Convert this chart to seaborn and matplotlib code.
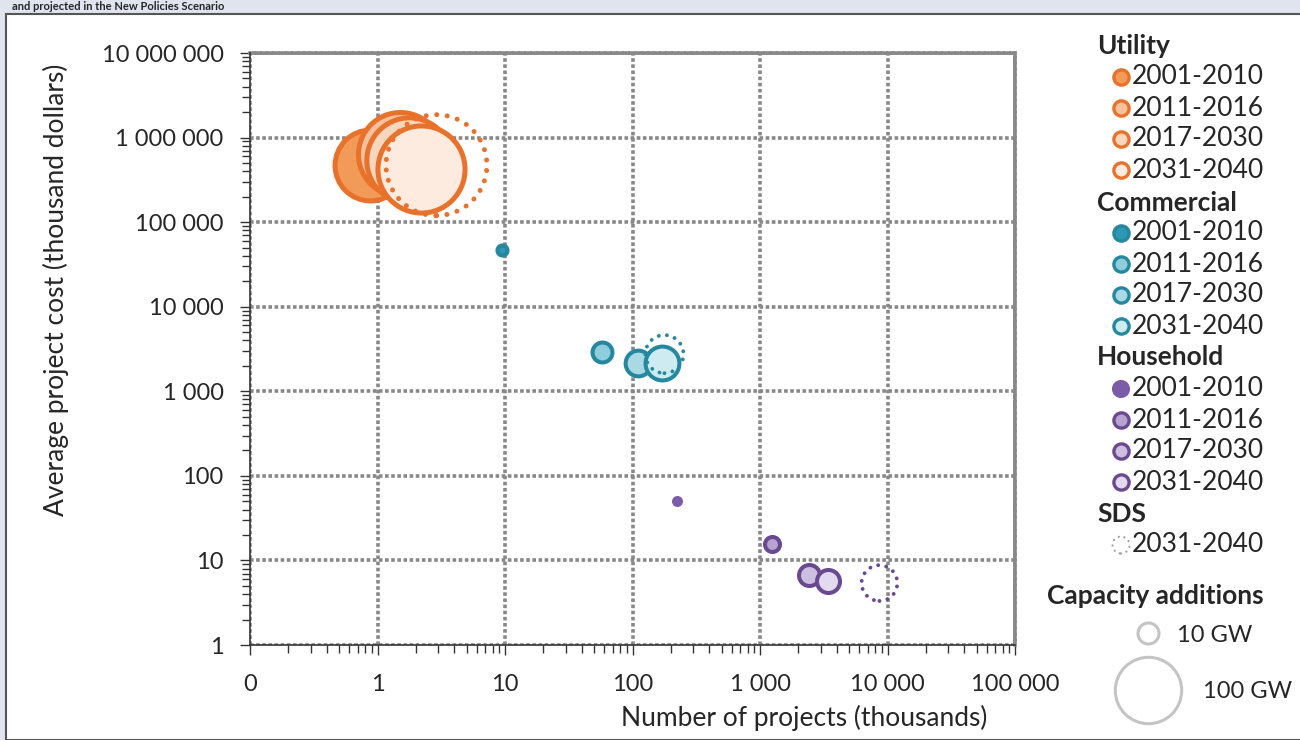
import numpy as np
import pandas as pd
import seaborn as sns
import matplotlib.pyplot as plt
import matplotlib.ticker as mticker
from matplotlib.patches import Rectangle

# data
periods = ['2001-2010', '2011-2016', '2017-2030', '2031-2040']

utility_projects = [0.88, 1.49, 1.78, 2.21]          # thousands
utility_cost = [470000, 637000, 540000, 423000]      # thousand dollars
utility_gw = [114, 160, 165, 172]

commercial_projects = [9.5, 58, 110, 169]
commercial_cost = [47300, 2900, 2150, 2150]
commercial_gw = [2.3, 9, 15, 26]

household_projects = [223, 1250, 2440, 3440]
household_cost = [50, 15.6, 6.7, 5.7]
household_gw = [1.1, 5.1, 10, 12]

sds_sectors = ['Utility', 'Commercial', 'Household']
sds_projects = [2.9, 178, 8650]
sds_cost = [472000, 2750, 5.4]
sds_gw = [231, 33, 29]

x_ticks = [0.1, 1, 10, 100, 1000, 10000, 100000]
x_labels = ['0', '1', '10', '100', '1 000', '10 000', '100 000']
y_ticks = [1, 10, 100, 1000, 10000, 100000, 1000000, 10000000]
y_labels = ['1', '10', '100', '1 000', '10 000', '100 000', '1 000 000', '10 000 000']

legend_gw = [10, 100]

# colours
edge = {'Utility': '#E8722B', 'Commercial': '#25889F', 'Household': '#69498F'}
fills = {
    'Utility': ['#F29B58', '#F6C19C', '#F9D6BE', '#FCEBDE'],
    'Commercial': ['#2C98B3', '#8FCDDD', '#A9D9E5', '#CFEBF2'],
    'Household': ['#7B5CA8', '#B6A3D0', '#CBBEDF', '#E2DAEE'],
}
edge_w = {'Utility': 3.6, 'Commercial': 2.9, 'Household': 2.9}

rows = []
for sector, xs, ys, gw in [('Utility', utility_projects, utility_cost, utility_gw),
                           ('Commercial', commercial_projects, commercial_cost, commercial_gw),
                           ('Household', household_projects, household_cost, household_gw)]:
    for i, p in enumerate(periods):
        rows.append(dict(sector=sector, period=p, projects=xs[i], cost=ys[i], gw=gw[i],
                         fill=fills[sector][i], scen='NPS'))
    j = sds_sectors.index(sector)
    rows.append(dict(sector=sector, period='2031-2040', projects=sds_projects[j], cost=sds_cost[j],
                     gw=sds_gw[j], fill='none', scen='SDS'))
df = pd.DataFrame(rows)

K = 22.86  # marker area (pt^2) per GW

sns.set_style('white')
plt.rcParams['font.family'] = ['Lato', 'DejaVu Sans']
txt = '#262626'

fig = plt.figure(figsize=(13, 7.4), dpi=100)
fig.patch.set_facecolor('#dfe4ee')
fig.add_artist(Rectangle((6 / 1300, 0), 1, 1 - 14 / 740, transform=fig.transFigure,
                         facecolor='white', edgecolor='#555555', linewidth=1.5, zorder=-5))
fig.text(12 / 1300, 1 - 7 / 740, 'and projected in the New Policies Scenario', fontsize=8,
         weight='bold', color=txt, va='center')

ax = fig.add_axes([250 / 1300, 1 - 645 / 740, 765 / 1300, 592 / 740])
ax.set_facecolor('white')
ax.set_xscale('log')
ax.set_yscale('log')
ax.set_xlim(0.1, 100000)
ax.set_ylim(1, 10000000)

for _, r in df.iterrows():
    sec = r['sector']
    if r['scen'] == 'SDS':
        lw = 3.6 if sec == 'Utility' else 2.8
        sns.scatterplot(x=[r['projects']], y=[r['cost']], s=r['gw'] * K, ax=ax,
                        facecolor='none', edgecolor=edge[sec], linewidth=lw,
                        linestyle=(0, (0.01, 2.1)), zorder=5, legend=False)
        ax.collections[-1].set_capstyle('round')
    else:
        ec = fills[sec][0] if (sec == 'Household' and r['period'] == '2001-2010') else edge[sec]
        sns.scatterplot(x=[r['projects']], y=[r['cost']], s=r['gw'] * K, ax=ax,
                        color=r['fill'], edgecolor=ec, linewidth=edge_w[sec], zorder=4,
                        legend=False)

ax.xaxis.set_major_locator(mticker.FixedLocator(x_ticks))
ax.xaxis.set_major_formatter(mticker.FixedFormatter(x_labels))
ax.yaxis.set_major_locator(mticker.FixedLocator(y_ticks))
ax.yaxis.set_major_formatter(mticker.FixedFormatter(y_labels))
ax.xaxis.set_minor_locator(mticker.LogLocator(base=10, subs=np.arange(2, 10), numticks=20))
ax.yaxis.set_minor_locator(mticker.LogLocator(base=10, subs=np.arange(2, 10), numticks=20))
ax.xaxis.set_minor_formatter(mticker.NullFormatter())
ax.yaxis.set_minor_formatter(mticker.NullFormatter())
ax.tick_params(axis='both', which='both', direction='out', length=6, width=1, color='#333333',
               labelsize=17, labelcolor=txt)
ax.tick_params(axis='both', which='major', length=7)
ax.tick_params(axis='x', which='major', pad=14)
ax.tick_params(axis='y', which='major', pad=12)
ax.tick_params(bottom=True, left=True, which='both')

ax.grid(which='major', linestyle=(0, (1, 0.7)), color='#888888', linewidth=2.6)
ax.set_axisbelow(True)
for s in ['top', 'right']:
    ax.spines[s].set_linestyle((0, (1, 0.7)))
    ax.spines[s].set_color('#888888')
    ax.spines[s].set_linewidth(2.6)
for s in ['left', 'bottom']:
    ax.spines[s].set_color('#333333')
    ax.spines[s].set_linewidth(1.2)
    ax.spines[s].set_zorder(3)

ax.set_xlabel('Number of projects (thousands)', fontsize=19, color=txt)
ax.set_ylabel('Average project cost (thousand dollars)', fontsize=19, color=txt)
ax.xaxis.set_label_coords(0.725, -0.101)
ax.yaxis.set_label_coords(-0.236, 0.60)

# legend drawn in pixel coordinates
lg = fig.add_axes([0, 0, 1, 1], zorder=10)
lg.set_xlim(0, 1300)
lg.set_ylim(740, 0)
lg.axis('off')

groups = [('Utility', 46, [77, 108, 139, 170]),
          ('Commercial', 203, [233, 264, 295, 326]),
          ('Household', 357, [389, 420, 451, 482])]
for sec, ty, ys in groups:
    lg.text(1097, ty, sec, fontsize=19, weight='bold', color=txt, va='center')
    for i, yy in enumerate(ys):
        if sec == 'Household' and i == 0:
            lg.scatter(1121, yy, s=170, color=fills[sec][0], edgecolor='none')
        else:
            lg.scatter(1121, yy, s=120, color=fills[sec][i], edgecolor=edge[sec], linewidth=2.4)
        lg.text(1132, yy, periods[i], fontsize=19, color=txt, va='center')

lg.text(1097, 514, 'SDS', fontsize=19, weight='bold', color=txt, va='center')
lg.scatter(1121, 545, s=150, facecolor='none', edgecolor='#9a9a9a', linewidth=1.6,
           linestyle=(0, (0.01, 2.6)))
lg.collections[-1].set_capstyle('round')
lg.text(1132, 545, '2031-2040', fontsize=19, color=txt, va='center')

lg.text(1047, 596, 'Capacity additions', fontsize=19, weight='bold', color=txt, va='center')
for gw, yy, tx in zip(legend_gw, [633, 690], [1177, 1203]):
    lg.scatter(1148, yy, s=gw * K, facecolor='white', edgecolor='#c4c4c4', linewidth=2.2)
    lg.text(tx, yy + 2, f'{gw} GW', fontsize=17, color=txt, va='center')

fig.savefig('out.png', dpi=100, facecolor=fig.get_facecolor())
